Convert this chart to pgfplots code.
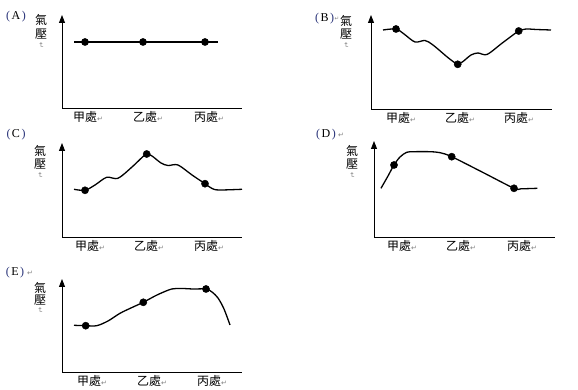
\documentclass[border=0pt]{standalone}
\usepackage{pgfplots}
\pgfplotsset{compat=1.18}
\usetikzlibrary{arrows.meta}
\usepackage{fontspec}
\setmainfont{Liberation Serif}
\newfontfamily\cjk{Noto Sans CJK TC}
\newfontfamily\dejavu{DejaVu Sans}
\definecolor{pcol}{RGB}{40,50,120}
\newcommand\ret{{\color{gray}\dejavu\fontsize{7}{8}\selectfont ↵}}
\newcommand\sret{{\color{gray}\dejavu\fontsize{5.5}{6}\selectfont ↵}}
\newcommand\rret{\rotatebox{-90}{\ret}}
\newcommand\ttl[1]{\textcolor{pcol}{(}\kern1.5pt#1\kern1.5pt\textcolor{pcol}{)}}
\pgfplotsset{
 panel/.style={
  scale only axis, clip=false,
  axis x line*=bottom, axis y line*=left,
  x axis line style={-, line width=0.9pt},
  y axis line style={-{Triangle[length=8pt,width=6pt]}, line width=0.9pt},
  xmin=0, ymin=0,
  ytick=\empty, major tick length=0pt,
  xtick style={draw=none},
  xticklabel style={font=\cjk\fontsize{12}{14}\selectfont, inner sep=3pt},
  xticklabels={甲處\ret,乙處\ret,丙處\ret},
  anchor=south west,
 },
 curve/.style={black, line width=1.3pt, smooth, no markers},
 dots/.style={only marks, mark=*, mark size=3.6pt, black},
}
\newcommand\vlab[4]{%
 \node[font=\cjk\fontsize{12}{14}\selectfont, inner sep=0pt] at (#1pt,#2pt) {氣};
 \node[font=\cjk\fontsize{12}{14}\selectfont, inner sep=0pt] at (#1pt,#3pt) {壓};
 \node[inner sep=0pt] at (#1pt,#4pt) {\rret};}
\begin{document}
\begin{tikzpicture}
\useasboundingbox (0pt,0pt) rectangle (578pt,390pt);
% (A)
\begin{axis}[panel, at={(62pt,282pt)}, width=180pt, height=93pt, xmax=180, ymax=93, xtick={26,86,147}]
\addplot[curve] coordinates {(12,66) (156,66)};
\addplot[dots] coordinates {(23,66) (81,66) (143,66)};
\end{axis}
% (B)
\begin{axis}[panel, at={(371pt,281pt)}, width=181pt, height=94pt, xmax=181, ymax=94, xtick={30,89,148}]
\addplot[curve] coordinates {(12,79) (25,80) (33,75) (44,67) (54,68.5) (62,64) (75,53) (82,47.5) (86.7,44.7) (92,47.5) (100,54) (107,56) (116,54.5) (130,65) (142,74) (147.7,78) (155,80) (165,79.5) (180,79)};
\addplot[dots] coordinates {(25,80) (86.7,44.7) (147.7,78)};
\end{axis}
% (C)
\begin{axis}[panel, at={(62pt,153pt)}, width=180pt, height=94pt, xmax=180, ymax=94, xtick={28,87,147}]
\addplot[curve] coordinates {(12,47.7) (23,46.7) (33,52) (44.7,59.7) (56,58.7) (70,70) (80,79.5) (84.7,83) (90,81) (99,74) (106,71.5) (116,72) (130,62) (143,53.3) (150,48.5) (157,47) (180,47.7)};
\addplot[dots] coordinates {(23,46.7) (84.7,83) (143,53.3)};
\end{axis}
% (D)
\begin{axis}[panel, at={(374pt,153pt)}, width=181pt, height=96pt, xmax=181, ymax=96, xtick={28,87,148}]
\addplot[curve] coordinates {(7,48.7) (14,61) (20,72) (26,80) (32.7,84.7) (40,85.3) (56,85.3) (66,84.3) (77.7,80.3) (109,64.5) (140,48.7) (147,48.2) (163.3,48.7)};
\addplot[dots] coordinates {(20,72) (77.7,80.3) (140,48.7)};
\end{axis}
% (E)
\begin{axis}[panel, at={(62pt,18pt)}, width=180pt, height=93pt, xmax=180, ymax=93, xtick={30,90,150}]
\addplot[curve] coordinates {(12,46.7) (23.7,46.3) (34.7,46.3) (46,51) (58,58.7) (70,64.5) (81.3,69.7) (95,77) (109.7,83) (120,83.5) (131.3,83) (144,83) (150,80) (156,74) (162,63) (168,47)};
\addplot[dots] coordinates {(23.7,46.3) (81.3,69.7) (144,83)};
\end{axis}
% titles
\node[font=\fontsize{12}{14}\selectfont, inner sep=0pt] at (16pt,373pt) {\ttl{A}};
\node[font=\fontsize{12}{14}\selectfont, inner sep=0pt] at (324.5pt,371.5pt) {\ttl{B}};
\node[inner sep=0pt] at (337pt,371.5pt) {\sret};
\node[font=\fontsize{12}{14}\selectfont, inner sep=0pt] at (16pt,255pt) {\ttl{C}};
\node[font=\fontsize{12}{14}\selectfont, inner sep=0pt] at (326pt,255pt) {\ttl{D}};
\node[inner sep=0pt] at (341pt,255pt) {\ret};
\node[font=\fontsize{12}{14}\selectfont, inner sep=0pt] at (15pt,117pt) {\ttl{E}};
\node[inner sep=0pt] at (30pt,117pt) {\ret};
% vertical labels
\vlab{41}{370}{356}{345}
\vlab{346}{369}{356}{345}
\vlab{40}{239}{226}{215}
\vlab{352}{239}{226}{215}
\vlab{40}{102.5}{90}{79.5}
\end{tikzpicture}
\end{document}
